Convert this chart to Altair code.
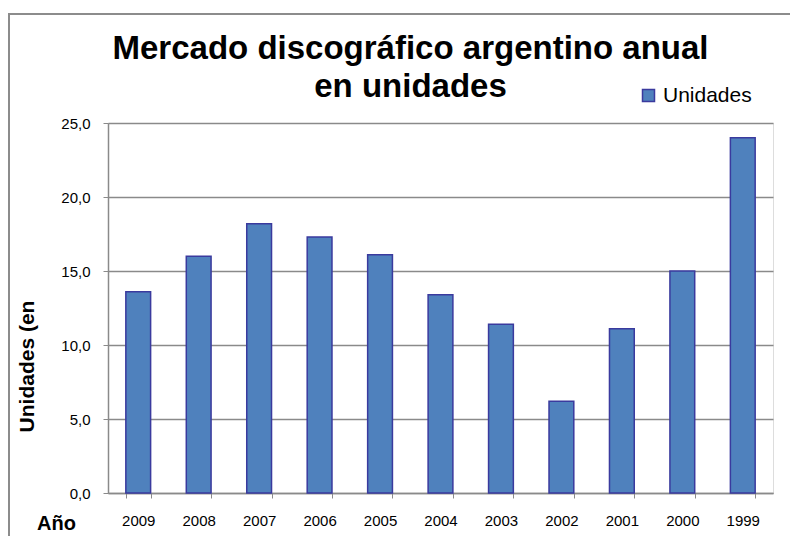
import altair as alt
import pandas as pd

years = ["2009", "2008", "2007", "2006", "2005", "2004", "2003", "2002", "2001", "2000", "1999"]
units = [13.6, 16.0, 18.2, 17.3, 16.1, 13.4, 11.4, 6.2, 11.1, 15.0, 24.0]
series_name = "Unidades"
y_ticks = [0, 5, 10, 15, 20, 25]

df = pd.DataFrame({"anio": years, "valor": units, "serie": [series_name] * len(years)})

FONT = "Liberation Sans"
GRID = "#8a8a8a"

bars = alt.Chart(df).mark_bar(
    fill="#4F81BD", stroke="#3A3A9E", strokeWidth=1.5
).encode(
    x=alt.X(
        "anio:N",
        sort=years,
        scale=alt.Scale(paddingInner=0.59, paddingOuter=0.295),
        axis=alt.Axis(
            title="Año",
            titleFont=FONT, titleFontSize=20, titleFontWeight="bold", titleColor="black",
            titleX=-52, titleY=30, titleAlign="center", titleBaseline="middle", titleAngle=0,
            labelFont=FONT, labelFontSize=15, labelColor="black", labelAngle=0,
            labelPadding=15, tickBand="extent", tickSize=5, tickColor=GRID,
            domainColor=GRID, domainWidth=1.5, grid=False,
        ),
    ),
    y=alt.Y(
        "valor:Q",
        scale=alt.Scale(domain=[0, 25], nice=False),
        axis=alt.Axis(
            title="Unidades (en",
            titleFont=FONT, titleFontSize=21, titleFontWeight="bold", titleColor="black",
            titleX=-81, titleY=243, titleAlign="center", titleBaseline="middle", titleAngle=-90,
            values=y_ticks,
            labelExpr="replace(format(datum.value, '.1f'), '.', ',')",
            labelFont=FONT, labelFontSize=15, labelColor="black", labelPadding=13,
            tickSize=5, tickColor=GRID, domainColor=GRID, domainWidth=1.5,
            grid=True, gridColor=GRID, gridWidth=1.5,
        ),
    ),
    color=alt.Color(
        "serie:N",
        scale=alt.Scale(range=["#4F81BD"]),
        legend=alt.Legend(
            title=None, orient="none", legendX=530, legendY=-38,
            symbolType="square", symbolSize=144, symbolStrokeColor="#3A3A9E",
            symbolStrokeWidth=1.5, symbolOpacity=1,
            labelFont=FONT, labelFontSize=21, labelColor="black", labelOffset=4,
            padding=0,
        ),
    ),
)

border = alt.Chart(pd.DataFrame({"k": [0]})).mark_rect(
    fill=None, stroke="#8c8c8c", strokeWidth=2
).encode(
    x=alt.value(-99), x2=alt.value(683), y=alt.value(-109), y2=alt.value(440)
)

chart = alt.layer(border, bars).properties(
    width=665,
    height=370,
    autosize=alt.AutoSizeParams(type="none"),
    padding={"left": 100, "top": 115, "right": 17, "bottom": 43},
    title=alt.Title(
        text=["Mercado discográfico argentino anual", "en unidades"],
        font=FONT, fontSize=33, fontWeight="bold", color="black",
        anchor="middle", frame="group", dx=-30, lineHeight=38,
        baseline="alphabetic", offset=0, dy=117,
    ),
).configure_view(
    fill="#E6E6E6", stroke=None
).configure(background="white")

chart.save("out.html", embed_options={"renderer": "svg", "actions": False})
